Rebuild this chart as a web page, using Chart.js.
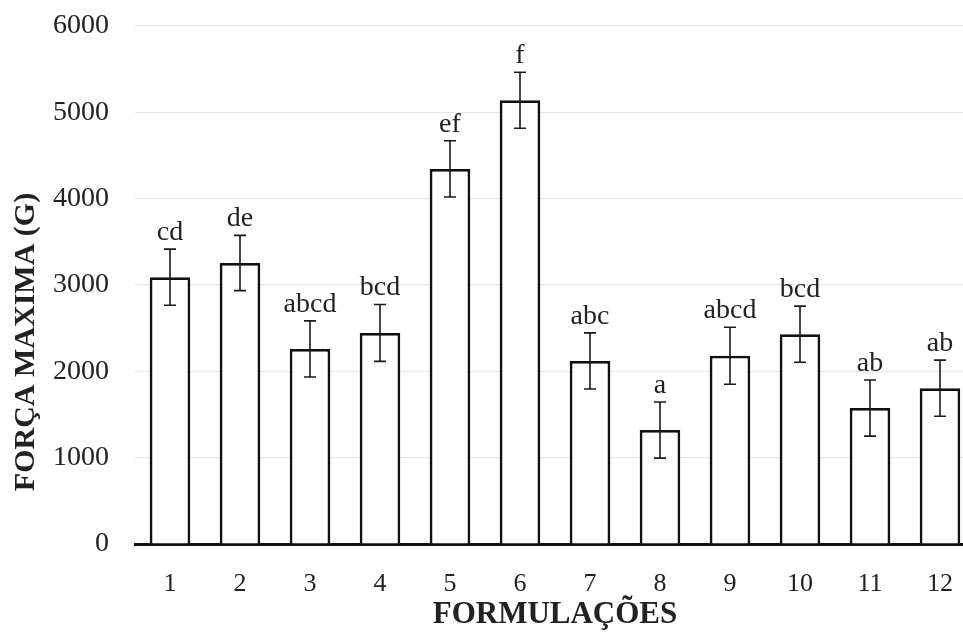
<!DOCTYPE html>
<html>
<head>
<meta charset="utf-8">
<script src="https://cdn.jsdelivr.net/npm/chart.js@4/dist/chart.umd.min.js"></script>
<style>
    html, body { margin: 0; padding: 0; background: #fff; overflow: hidden; }
</style>
</head>
<body>
<canvas id="forcaChart" width="975" height="640"></canvas>
<script>
const formulacoes = ['1', '2', '3', '4', '5', '6', '7', '8', '9', '10', '11', '12'];
const forcaMedia = [3090, 3255, 2260, 2445, 4345, 5140, 2120, 1320, 2180, 2430, 1575, 1805];
const desvio = [325, 320, 325, 330, 325, 325, 325, 325, 330, 325, 325, 325];
const letras = ['cd', 'de', 'abcd', 'bcd', 'ef', 'f', 'abc', 'a', 'abcd', 'bcd', 'ab', 'ab'];
const yTicks = [0, 1000, 2000, 3000, 4000, 5000, 6000];

const serif = "'Liberation Serif', 'Times New Roman', serif";
const textColor = '#222';

// error bars + letters + axis titles
const errorBarPlugin = {
    id: 'errorBars',
    afterDatasetsDraw(chart) {
        const ctx = chart.ctx;
        const yScale = chart.scales.y;
        const meta = chart.getDatasetMeta(0);
        ctx.save();
        ctx.strokeStyle = '#1a1a1a';
        ctx.lineWidth = 1.6;
        meta.data.forEach((bar, i) => {
            const top = yScale.getPixelForValue(forcaMedia[i] + desvio[i]);
            const bottom = yScale.getPixelForValue(forcaMedia[i] - desvio[i]);
            ctx.beginPath();
            ctx.moveTo(bar.x, top);
            ctx.lineTo(bar.x, bottom);
            ctx.moveTo(bar.x - 6, top);
            ctx.lineTo(bar.x + 6, top);
            ctx.moveTo(bar.x - 6, bottom);
            ctx.lineTo(bar.x + 6, bottom);
            ctx.stroke();

            ctx.fillStyle = textColor;
            ctx.font = '28px ' + serif;
            ctx.textAlign = 'center';
            ctx.textBaseline = 'alphabetic';
            ctx.fillText(letras[i], bar.x, top - 9);
        });
        ctx.restore();
    },
    afterDraw(chart) {
        const ctx = chart.ctx;
        const area = chart.chartArea;
        ctx.save();
        ctx.fillStyle = textColor;
        ctx.font = 'bold 31px ' + serif;
        ctx.textAlign = 'center';
        ctx.textBaseline = 'middle';
        ctx.fillText('FORMULAÇÕES', (area.left + area.right) / 2, 615);
        ctx.font = 'bold 30px ' + serif;
        ctx.translate(26, 342);
        ctx.rotate(-Math.PI / 2);
        ctx.fillText('FORÇA MAXIMA (G)', 0, 0);
        ctx.restore();
    }
};

const ctx = document.getElementById('forcaChart').getContext('2d');
const data = {
    labels: formulacoes,
    datasets: [{
        label: 'Força máxima',
        data: forcaMedia,
        backgroundColor: '#ffffff',
        borderColor: '#111111',
        borderWidth: 2.8,
        borderSkipped: 'start',
        barPercentage: 0.58,
        categoryPercentage: 1
    }]
};

const config = {
    type: 'bar',
    data,
    options: {
        responsive: false,
        animation: false,
        layout: {
            padding: { top: 26, right: 0, bottom: 0, left: 0 }
        },
        plugins: {
            legend: { display: false },
            tooltip: { enabled: false }
        },
        scales: {
            x: {
                afterFit: (scale) => {
                    scale.height = 96;
                    scale.paddingLeft = 0;
                    scale.paddingRight = 0;
                },
                grid: { display: false, drawTicks: false },
                border: { display: true, color: '#111111', width: 3 },
                ticks: {
                    color: textColor,
                    padding: 25,
                    font: { family: serif, size: 26 }
                }
            },
            y: {
                min: 0,
                max: 6000,
                afterFit: (scale) => {
                    scale.width = 135;
                    scale.paddingTop = 0;
                    scale.paddingBottom = 0;
                },
                afterBuildTicks: (scale) => {
                    scale.ticks = yTicks.map(v => ({ value: v }));
                },
                grid: { color: '#e9e9e9', lineWidth: 1.2, drawTicks: false },
                border: { display: false },
                ticks: {
                    color: textColor,
                    padding: 26,
                    font: { family: serif, size: 28 },
                    callback: (value) => String(value)
                }
            }
        }
    },
    plugins: [errorBarPlugin]
};

var forcaChart = new Chart(
    ctx,
    config
);
</script>
</body>
</html>
